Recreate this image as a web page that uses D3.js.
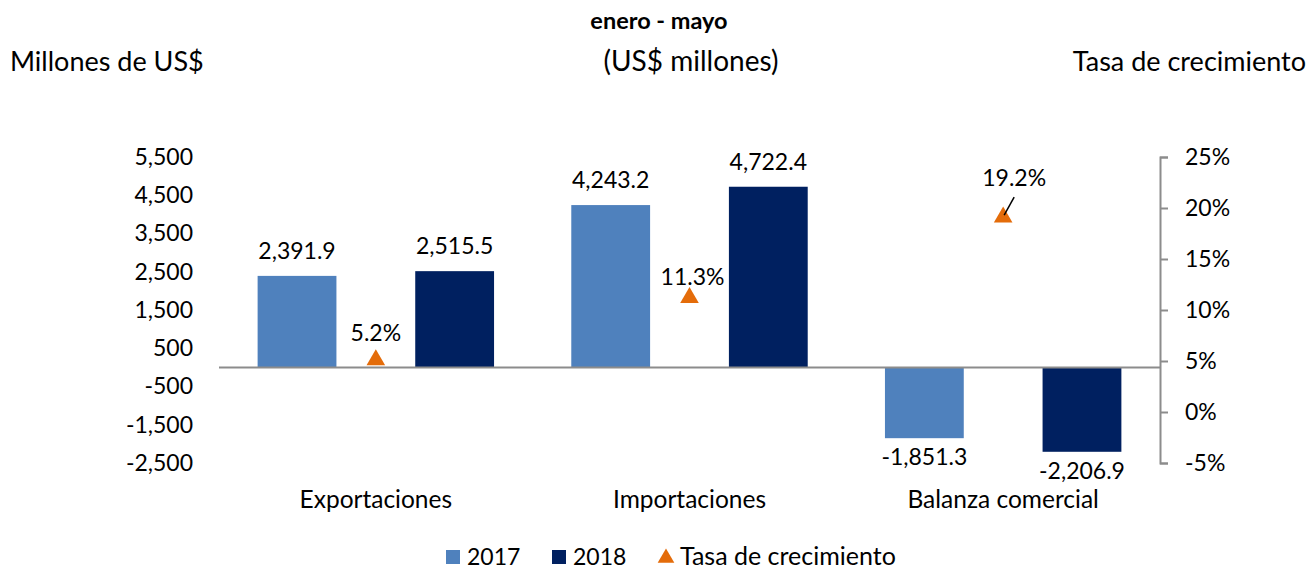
<!DOCTYPE html>
<html><head><meta charset="utf-8">
<script src="https://cdn.jsdelivr.net/npm/d3@7"></script>
<style>body{margin:0;background:#fff;} svg{display:block;font-family:Lato, "Open Sans", sans-serif;}</style>
</head><body>
<svg id="c" width="1316" height="569"></svg>
<script>
const categories = ["Exportaciones", "Importaciones", "Balanza comercial"];
const seriesNames = ["2017", "2018"];
const values2017 = [2391.9, 4243.2, -1851.3];
const values2018 = [2515.5, 4722.4, -2206.9];
const growth = [0.052, 0.113, 0.192];
const leftTicks = [-2500, -1500, -500, 500, 1500, 2500, 3500, 4500, 5500];
const rightTicks = [-0.05, 0, 0.05, 0.10, 0.15, 0.20, 0.25];
const colors = {"2017": "#4F81BD", "2018": "#002060", growth: "#E46C0A"};

const svg = d3.select("#c");
const FS = 23;
const plot = {left: 219, right: 1160, top: 157, bottom: 463};

const hy = s => s.replace(/\u2212/g, "-");
const x0 = d3.scaleBand().domain(categories).range([plot.left, plot.right]).paddingInner(0).paddingOuter(0);
const x1 = d3.scaleBand().domain(seriesNames).range([0, x0.bandwidth()]).paddingInner(0.5).paddingOuter(0.245);
const yL = d3.scaleLinear().domain([-2500, 5500]).range([plot.bottom, plot.top]);
const yR = d3.scaleLinear().domain([-0.05, 0.25]).range([plot.bottom, plot.top]);

const fmtV = v => hy(d3.format(",.1f")(v));
const fmtP = v => hy(d3.format(".1%")(v));
const fmtT = v => hy(d3.format(",")(v));
const fmtR = v => hy(d3.format(".0%")(v));

// left axis (labels only)
const gL = svg.append("g").attr("transform", `translate(${plot.left},0)`)
  .call(d3.axisLeft(yL).tickValues(leftTicks).tickFormat(fmtT).tickSize(0).tickPadding(26));
gL.select(".domain").remove();
gL.selectAll("text").attr("font-size", FS).attr("font-family", "Lato").attr("fill", "#000");

// bars
const rows = categories.map((c, i) => ({c, vals: [{s: "2017", v: values2017[i]}, {s: "2018", v: values2018[i]}]}));
const grp = svg.append("g").selectAll("g").data(rows).join("g")
  .attr("transform", d => `translate(${x0(d.c)},0)`);
grp.selectAll("rect").data(d => d.vals).join("rect")
  .attr("x", d => x1(d.s)).attr("width", x1.bandwidth())
  .attr("y", d => yL(Math.max(0, d.v))).attr("height", d => Math.abs(yL(d.v) - yL(0)))
  .attr("fill", d => colors[d.s]);
grp.selectAll("text").data(d => d.vals).join("text")
  .attr("x", d => x1(d.s) + x1.bandwidth() / 2)
  .attr("y", d => d.v >= 0 ? yL(d.v) - 17 : yL(d.v) + 27)
  .attr("text-anchor", "middle").attr("font-size", FS).attr("fill", "#000")
  .text(d => fmtV(d.v));

// zero line
svg.append("line").attr("x1", plot.left).attr("x2", plot.right).attr("y1", yL(0)).attr("y2", yL(0))
  .attr("stroke", "#8c8c8c").attr("stroke-width", 2);

// right axis
const gR = svg.append("g").attr("transform", `translate(${plot.right},0)`)
  .call(d3.axisRight(yR).tickValues(rightTicks).tickFormat(fmtR).tickSizeInner(8).tickSizeOuter(8).tickPadding(17));
gR.select(".domain").attr("stroke", "#8c8c8c").attr("stroke-width", 2);
gR.selectAll(".tick line").attr("stroke", "#8c8c8c").attr("stroke-width", 2);
gR.selectAll("text").attr("font-size", FS).attr("font-family", "Lato").attr("fill", "#000");

// category labels
svg.append("g").selectAll("text").data(categories).join("text")
  .attr("x", d => x0(d) + x0.bandwidth() / 2).attr("y", 508)
  .attr("text-anchor", "middle").attr("font-size", 24.5).text(d => d);

// growth triangles
const tri = d3.symbol().type(d3.symbolTriangle).size(150);
const gG = svg.append("g");
gG.selectAll("path").data(growth).join("path")
  .attr("d", tri)
  .attr("transform", (d, i) => `translate(${x0(categories[i]) + x0.bandwidth() / 2},${yR(d) + 1})`)
  .attr("fill", colors.growth);
const labelOff = [[0, -18], [3, -12], [11, -30]];
gG.selectAll("text").data(growth).join("text")
  .attr("x", (d, i) => x0(categories[i]) + x0.bandwidth() / 2 + labelOff[i][0])
  .attr("y", (d, i) => yR(d) + labelOff[i][1])
  .attr("text-anchor", "middle").attr("font-size", FS).text(d => fmtP(d));
// leader line for 19.2%
const cx2 = x0(categories[2]) + x0.bandwidth() / 2;
svg.append("line").attr("x1", cx2 + 11).attr("y1", yR(growth[2]) - 19)
  .attr("x2", cx2 + 1).attr("y2", yR(growth[2]) - 1).attr("stroke", "#000").attr("stroke-width", 1.5);

// titles
svg.append("text").attr("x", 659).attr("y", 29).attr("text-anchor", "middle").attr("font-size", 23.5).attr("font-weight", "bold").text("enero - mayo");
svg.append("text").attr("x", 691).attr("y", 71).attr("text-anchor", "middle").attr("font-size", 28).text("(US$ millones)");
svg.append("text").attr("x", 10).attr("y", 71).attr("font-size", 27).text("Millones de US$");
svg.append("text").attr("x", 1306).attr("y", 71).attr("text-anchor", "end").attr("font-size", 27).text("Tasa de crecimiento");

// legend
const leg = svg.append("g");
const legItems = [{k: "2017", x: 446}, {k: "2018", x: 552}];
legItems.forEach(it => {
  leg.append("rect").attr("x", it.x).attr("y", 550).attr("width", 14).attr("height", 14).attr("fill", colors[it.k]);
  leg.append("text").attr("x", it.x + 21).attr("y", 565).attr("font-size", FS).text(it.k);
});
leg.append("path").attr("d", d3.symbol().type(d3.symbolTriangle).size(120)).attr("transform", "translate(666,558)").attr("fill", colors.growth);
leg.append("text").attr("x", 680).attr("y", 565).attr("font-size", 25).text("Tasa de crecimiento");
</script>
</body></html>
